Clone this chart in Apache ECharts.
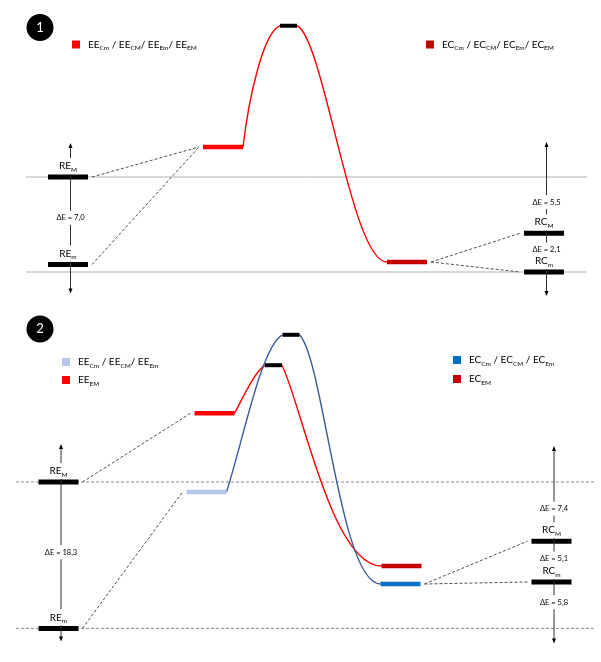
<!DOCTYPE html>
<html>
<head>
<meta charset="utf-8">
<title>Energy profiles</title>
<script src="https://cdn.jsdelivr.net/npm/echarts@6.0.0/dist/echarts.min.js"></script>
<style>
  html, body { margin: 0; padding: 0; background: #ffffff; }
  #chart { width: 601px; height: 662px; }
</style>
</head>
<body>
<div id="chart"></div>
<script>
// ---------- Panel 1: one pathway RE -> EE -> TS -> EC -> RC ----------
const p1Stages = ['RE_M', 'RE_m', 'EE', 'TS', 'EC', 'RC_M', 'RC_m'];
const p1Coord  = [6.8, 6.8, 22.3, 28.85, 40.7, 54.4, 54.4];      // reaction coordinate
const p1Energy = [0, -7.0, 2.4, 12.1, -6.8, -4.5, -7.6];          // relative level
const p1Delta  = ['7,0', '5,5', '2,1'];
const p1Legend = ['EE_Cm / EE_CM/ EE_Em/ EE_EM', 'EC_Cm / EC_CM/ EC_Em/ EC_EM'];

// ---------- Panel 2: two pathways ----------
const p2Stages = ['RE_M', 'RE_m', 'EE_Cm/CM/Em', 'EE_EM', 'TS_EM', 'TS_Cm/CM/Em',
                  'EC_EM', 'EC_Cm/CM/Em', 'RC_M', 'RC_m'];
const p2Coord  = [5.85, 5.85, 20.65, 21.45, 27.35, 29.1, 40.15, 40.05, 55.15, 55.15];
const p2Energy = [0, -18.3, -1.25, 8.6, 14.6, 18.4, -10.5, -12.75, -7.4, -12.5];
const p2Delta  = ['18,3', '7,4', '5,1', '5,8'];
const p2Legend = ['EE_Cm / EE_CM/ EE_Em', 'EE_EM', 'EC_Cm / EC_CM / EC_Em', 'EC_EM'];

// ---------- styling ----------
const FONT = 'Lato, "Open Sans", sans-serif';
const TEXT = '#404040';
const RED = '#FF0000', DARK_RED = '#C00000', LIGHT_BLUE = '#B4C7E7',
      BLUE = '#0070C0', NAVY = '#3A5A9A', BLACK = '#000000';
const BAR_HALF = 2.0, TS_HALF = 0.85;

const p1Colors = [BLACK, BLACK, RED, BLACK, DARK_RED, BLACK, BLACK];
const p2Colors = [BLACK, BLACK, LIGHT_BLUE, RED, BLACK, BLACK, DARK_RED, BLUE, BLACK, BLACK];

// curve shapes: bezier control points as fractions of each segment's span
const SHAPE_P1  = { rise: { c1: [0.15, 0.4], c2: [0.55, 0.95] }, fall: { c1: [0.3, 0.05], c2: [0.6, 1.0] } };
const SHAPE_RED = { rise: { c1: [0.3, 0.35],  c2: [0.65, 0.85] }, fall: { c1: [0.2, 0.2],  c2: [0.5, 1.0] } };
const SHAPE_NAV = { rise: { c1: [0.3, 0.33],  c2: [0.62, 0.93] }, fall: { c1: [0.3, 0.1],  c2: [0.5, 1.0] } };

const rich = {
  b: { fontFamily: FONT, fontSize: 10, color: TEXT, lineHeight: 13 },
  s: { fontFamily: FONT, fontSize: 6.5, color: TEXT, lineHeight: 14, verticalAlign: 'bottom' },
  d: { fontFamily: FONT, fontSize: 7.5, color: TEXT, lineHeight: 10 }
};

// "EE_Cm / EE_CM" -> rich text with subscripts
function richSub(label) {
  let out = '', last = 0, m;
  const re = /_([A-Za-z]+)/g;
  while ((m = re.exec(label))) {
    if (m.index > last) out += '{b|' + label.slice(last, m.index) + '}';
    out += '{s|' + m[1] + '}';
    last = m.index + m[0].length;
  }
  if (last < label.length) out += '{b|' + label.slice(last) + '}';
  return out;
}

const isTS = name => name.indexOf('TS') === 0;

// ---------- series builders ----------
function refLines(gi, energies, x0, x1, dashed) {
  return {
    type: 'custom', xAxisIndex: gi, yAxisIndex: gi, z: 1, silent: true,
    data: energies.map(e => [x0, e]),
    renderItem(params, api) {
      const e = api.value(1);
      const a = api.coord([x0, e]), b = api.coord([x1, e]);
      return {
        type: 'line',
        shape: { x1: a[0], y1: a[1], x2: b[0], y2: b[1] },
        style: { stroke: dashed ? '#8c8c8c' : '#b0b0b0', lineWidth: 1, lineDash: dashed ? [3, 2] : null }
      };
    }
  };
}

function connectors(gi, stages, coord, energy, pairs) {
  const GAP = 4;
  return {
    type: 'custom', xAxisIndex: gi, yAxisIndex: gi, z: 2, silent: true,
    data: pairs.map(p => [coord[p[0]], energy[p[0]], p[0], p[1]]),
    renderItem(params, api) {
      const i = api.value(2), j = api.value(3);
      const hi = isTS(stages[i]) ? TS_HALF : BAR_HALF;
      const hj = isTS(stages[j]) ? TS_HALF : BAR_HALF;
      const a = api.coord([coord[i] + hi, energy[i]]);
      const b = api.coord([coord[j] - hj, energy[j]]);
      return {
        type: 'line',
        shape: { x1: a[0] + GAP, y1: a[1], x2: b[0] - GAP, y2: b[1] },
        style: { stroke: '#505050', lineWidth: 1, lineDash: [3, 2] }
      };
    }
  };
}

// bezier segment between two screen points, control points as span fractions
function segment(p, q, shape) {
  const dx = q[0] - p[0], dy = q[1] - p[1];
  return {
    type: 'bezierCurve',
    shape: {
      x1: p[0], y1: p[1], x2: q[0], y2: q[1],
      cpx1: p[0] + dx * shape.c1[0], cpy1: p[1] + dy * shape.c1[1],
      cpx2: p[0] + dx * shape.c2[0], cpy2: p[1] + dy * shape.c2[1]
    }
  };
}

// EE -> TS -> EC profile
function profile(gi, coord, energy, iE, iT, iC, color, shape) {
  return {
    type: 'custom', xAxisIndex: gi, yAxisIndex: gi, z: 3, silent: true,
    data: [[coord[iT], energy[iT]]],
    renderItem(params, api) {
      const a = api.coord([coord[iE] + BAR_HALF, energy[iE]]);
      const b = api.coord([coord[iT] - TS_HALF, energy[iT]]);
      const c = api.coord([coord[iT] + TS_HALF, energy[iT]]);
      const d = api.coord([coord[iC] - BAR_HALF, energy[iC]]);
      const style = { stroke: color, lineWidth: 1.4, fill: null };
      const rise = segment(a, b, shape.rise), fall = segment(c, d, shape.fall);
      rise.style = style; fall.style = style;
      return { type: 'group', children: [rise, fall] };
    }
  };
}

function levels(gi, stages, coord, energy, colors) {
  return {
    type: 'custom', xAxisIndex: gi, yAxisIndex: gi, z: 5, silent: true,
    encode: { x: 0, y: 1 },
    data: coord.map((x, i) => [x, energy[i], i]),
    renderItem(params, api) {
      const i = api.value(2);
      const ts = isTS(stages[i]);
      const half = ts ? TS_HALF : BAR_HALF;
      const h = ts ? 4 : (colors[i] === BLACK ? 5 : 4.5);
      const a = api.coord([api.value(0) - half, api.value(1)]);
      const b = api.coord([api.value(0) + half, api.value(1)]);
      return {
        type: 'rect',
        shape: { x: a[0], y: a[1] - h / 2, width: b[0] - a[0], height: h },
        style: { fill: colors[i] }
      };
    }
  };
}

// vertical energy axis with arrows, level names and ΔE values
function energyAxes(gi, stages, coord, energy, specs) {
  return {
    type: 'custom', xAxisIndex: gi, yAxisIndex: gi, z: 6, silent: true,
    data: specs.map((s, k) => [coord[s.at], s.top, k]),
    renderItem(params, api) {
      const s = specs[api.value(2)];
      const x = api.coord([coord[s.at] + 0.25, 0])[0];
      const yTop = api.coord([0, s.top])[1] - s.up;
      const yBot = api.coord([0, s.bottom])[1] + s.down;
      const children = [
        { type: 'line', shape: { x1: x, y1: yTop + 3, x2: x, y2: yBot - 3 },
          style: { stroke: '#303030', lineWidth: 1 } },
        { type: 'polygon', shape: { points: [[x, yTop], [x - 2, yTop + 5], [x + 2, yTop + 5]] },
          style: { fill: '#000' } },
        { type: 'polygon', shape: { points: [[x, yBot], [x - 2, yBot - 5], [x + 2, yBot - 5]] },
          style: { fill: '#000' } }
      ];
      s.deltas.forEach(d => {
        const ya = api.coord([0, d[0]])[1], yb = api.coord([0, d[1]])[1];
        children.push({
          type: 'text', x: x, y: (ya + yb) / 2 - 3,
          style: { text: '{d|\u0394E = ' + d[2] + '}', rich: rich, align: 'center', verticalAlign: 'middle',
                   backgroundColor: '#fff', padding: [2, 1] }
        });
      });
      s.levels.forEach(i => {
        const p = api.coord([coord[i], energy[i]]);
        children.push({
          type: 'text', x: p[0], y: p[1] - 11,
          style: { text: richSub(stages[i]), rich: rich, align: 'center', verticalAlign: 'middle',
                   backgroundColor: '#fff', padding: [1, 2] }
        });
      });
      return { type: 'group', children: children };
    }
  };
}

// ---------- annotation layout ----------
const p1Axes = [
  { at: 0, top: p1Energy[0], bottom: p1Energy[1], up: 34, down: 29, levels: [0, 1],
    deltas: [[p1Energy[0], p1Energy[1], p1Delta[0]]] },
  { at: 5, top: p1Energy[0], bottom: p1Energy[6], up: 35, down: 24, levels: [5, 6],
    deltas: [[p1Energy[0], p1Energy[5], p1Delta[1]], [p1Energy[5], p1Energy[6], p1Delta[2]]] }
];
const p2Axes = [
  { at: 0, top: p2Energy[0], bottom: p2Energy[1], up: 38, down: 13, levels: [0, 1],
    deltas: [[p2Energy[0], p2Energy[1], p2Delta[0]]] },
  { at: 8, top: p2Energy[0], bottom: p2Energy[1], up: 36, down: 15, levels: [8, 9],
    deltas: [[p2Energy[0], p2Energy[8], p2Delta[1]], [p2Energy[8], p2Energy[9], p2Delta[2]],
             [p2Energy[9], p2Energy[1], p2Delta[3]]] }
];

// ---------- legends and panel badges ----------
function legendItem(x, y, color, label) {
  return [
    { type: 'rect', shape: { x: x, y: y - 4, width: 8, height: 8 }, style: { fill: color } },
    { type: 'text', x: x + 16, y: y,
      style: { text: richSub(label), rich: rich, align: 'left', verticalAlign: 'middle' } }
  ];
}
function badge(cx, cy, label) {
  return [
    { type: 'circle', shape: { cx: cx, cy: cy, r: 13.5 }, style: { fill: '#000' } },
    { type: 'text', x: cx, y: cy,
      style: { text: label, fill: '#fff', fontFamily: FONT, fontSize: 13, align: 'center', verticalAlign: 'middle' } }
  ];
}

const graphic = [].concat(
  badge(40, 27.5, '1'),
  badge(40, 329, '2'),
  legendItem(72, 44.5, RED, p1Legend[0]),
  legendItem(426, 44.5, DARK_RED, p1Legend[1]),
  legendItem(62, 362, LIGHT_BLUE, p2Legend[0]),
  legendItem(62, 380, RED, p2Legend[1]),
  legendItem(453, 360, BLUE, p2Legend[2]),
  legendItem(453, 379, DARK_RED, p2Legend[3])
);

const chart = echarts.init(document.getElementById('chart'), null, { renderer: 'canvas' });
chart.setOption({
  animation: false,
  backgroundColor: '#ffffff',
  grid: [
    { left: 0, width: 600, top: 2, height: 300 },
    { left: 0, width: 600, top: 306, height: 352 }
  ],
  xAxis: [
    { type: 'value', gridIndex: 0, min: 0, max: 60, show: false },
    { type: 'value', gridIndex: 1, min: 0, max: 60, show: false }
  ],
  yAxis: [
    { type: 'value', gridIndex: 0, min: -10, max: 14, show: false },
    { type: 'value', gridIndex: 1, min: -22, max: 22, show: false }
  ],
  graphic: graphic,
  series: [
    refLines(0, [p1Energy[0], p1Energy[6]], 2.6, 58.7, false),
    connectors(0, p1Stages, p1Coord, p1Energy, [[0, 2], [1, 2], [4, 5], [4, 6]]),
    profile(0, p1Coord, p1Energy, 2, 3, 4, RED, SHAPE_P1),
    levels(0, p1Stages, p1Coord, p1Energy, p1Colors),
    energyAxes(0, p1Stages, p1Coord, p1Energy, p1Axes),

    refLines(1, [p2Energy[0], p2Energy[1]], 1.6, 59.6, true),
    connectors(1, p2Stages, p2Coord, p2Energy, [[0, 3], [1, 2], [7, 8], [7, 9]]),
    profile(1, p2Coord, p2Energy, 3, 4, 6, RED, SHAPE_RED),
    profile(1, p2Coord, p2Energy, 2, 5, 7, NAVY, SHAPE_NAV),
    levels(1, p2Stages, p2Coord, p2Energy, p2Colors),
    energyAxes(1, p2Stages, p2Coord, p2Energy, p2Axes)
  ]
});
</script>
</body>
</html>
